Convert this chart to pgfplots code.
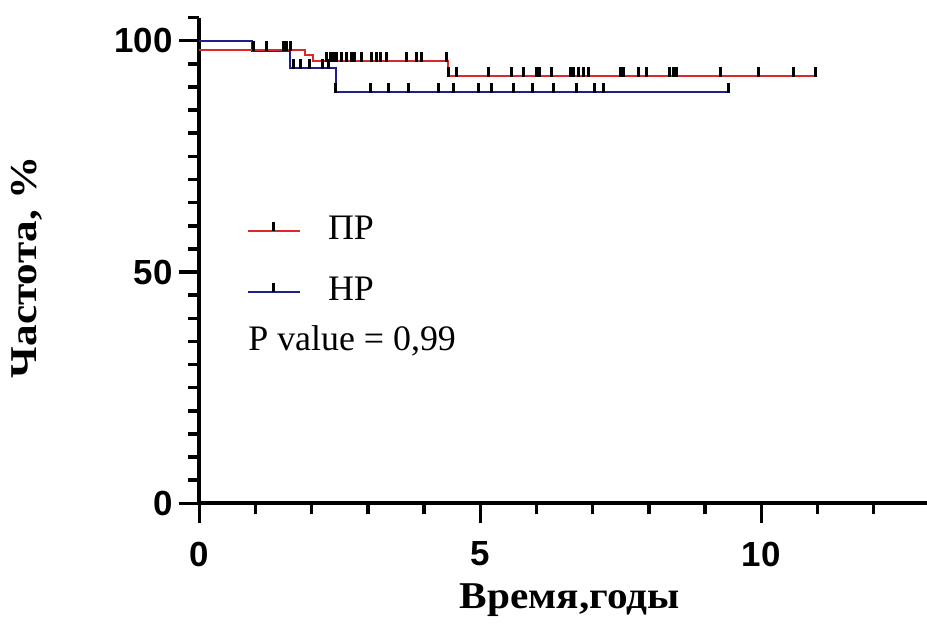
\documentclass[border=0pt]{standalone}
\usepackage{fontspec}
\setmainfont{Liberation Serif}
\setsansfont{Liberation Sans}
\newfontfamily\xlabfont[FakeStretch=1.09]{Liberation Serif}
\newfontfamily\ylabfont[FakeStretch=1.14]{Liberation Serif}
\usepackage{pgfplots}
\pgfplotsset{compat=1.18}
\definecolor{kmred}{RGB}{220,40,40}
\definecolor{kmblue}{RGB}{30,30,140}
\pgfdeclareplotmark{cens}{\pgfpathmoveto{\pgfqpoint{0pt}{-1bp}}\pgfpathlineto{\pgfqpoint{0pt}{9bp}}\pgfusepathqstroke}
\begin{document}
\begin{tikzpicture}
\useasboundingbox (-199.3bp,-127.7bp) rectangle (727.7bp,503.3bp);
\begin{axis}[
  scale only axis, width=730.6bp, height=485.7bp,
  xmin=0, xmax=13, ymin=0, ymax=105,
  axis x line*=bottom, axis y line*=left,
  axis line style={line width=4bp, black},
  xtick={0,5,10}, minor xtick={1,2,3,4,6,7,8,9,11,12,13},
  ytick={0,50,100}, minor ytick={5,10,...,105},
  tick align=outside,
  major tick length=20bp, minor tick length=11bp,
  every tick/.style={black, line width=3.5bp},
  tick label style={font=\fontsize{35}{35}\selectfont\sffamily\bfseries},
  xticklabel style={yshift=-15bp},
  yticklabel style={xshift=-3bp},
  /pgf/number format/assume math mode=true,
  xlabel={Время,годы}, ylabel={Частота, \%},
  xlabel style={font=\fontsize{38}{38}\selectfont\xlabfont\bfseries, at={(axis description cs:0.507,-0.20)}, anchor=center},
  ylabel style={font=\fontsize{38}{38}\selectfont\ylabfont\bfseries, at={(axis description cs:-0.2358,0.4865)}, anchor=center},
  legend style={draw=none, fill=none, at={(axis cs:0.84,62.5)}, anchor=north west,
    font=\fontsize{36}{36}\selectfont, row sep=27.7bp, inner sep=0pt,
    nodes={inner sep=0pt, text height=25bp, text depth=8bp}},
  legend cell align=left,
  clip=false,
]
\addlegendimage{legend image code/.code={\path[draw=none,fill=none] (0bp,0bp) rectangle (80.3bp,0.1bp); \draw[kmred,line width=2bp] (0bp,0bp) -- (52.6bp,0bp); \draw[black,line width=3bp] (25.6bp,0bp) -- (25.6bp,9bp);}}
\addlegendentry{ПР}
\addlegendimage{legend image code/.code={\path[draw=none,fill=none] (0bp,0bp) rectangle (80.3bp,0.1bp); \draw[kmblue,line width=2bp] (0bp,0bp) -- (52.6bp,0bp); \draw[black,line width=3bp] (25.6bp,0bp) -- (25.6bp,9bp);}}
\addlegendentry{НР}

\addplot[kmblue, line width=2bp, const plot, forget plot] coordinates {(0,100)(0.93,97.7)(1.61,94.2)(2.43,89.0)(9.41,89.0)};
\addplot[kmred, line width=2bp, const plot, forget plot] coordinates {(0,98)(1.88,96.9)(2.02,95.7)(4.42,92.3)(10.97,92.3)};

\addplot[only marks, mark=cens, mark options={black, line width=3bp}, forget plot] coordinates {
(0.97,98)(1.2,98)(1.49,98)(1.56,98)(1.62,98)
(2.27,95.7)(2.33,95.7)(2.38,95.7)(2.44,95.7)(2.53,95.7)(2.62,95.7)(2.71,95.7)(2.77,95.7)(2.89,95.7)
(3.07,95.7)(3.16,95.7)(3.22,95.7)(3.33,95.7)(3.69,95.7)(3.87,95.7)(3.96,95.7)(4.40,95.7)
(4.43,92.3)(4.58,92.3)(5.14,92.3)(5.56,92.3)(5.77,92.3)(6.00,92.3)(6.06,92.3)(6.27,92.3)
(6.60,92.3)(6.65,92.3)(6.74,92.3)(6.83,92.3)(6.92,92.3)(7.49,92.3)(7.54,92.3)(7.81,92.3)
(7.96,92.3)(8.37,92.3)(8.43,92.3)(8.49,92.3)(9.27,92.3)(9.95,92.3)(10.57,92.3)(10.96,92.3)
};
\addplot[only marks, mark=cens, mark options={black, line width=3bp}, forget plot] coordinates {
(1.68,94.2)(1.80,94.2)(1.96,94.2)(2.20,94.2)(2.30,94.2)
(2.43,89)(3.04,89)(3.36,89)(3.72,89)(4.25,89)(4.52,89)(4.96,89)(5.20,89)(5.59,89)
(5.92,89)(6.30,89)(6.72,89)(7.04,89)(7.19,89)(9.41,89)
};

\node[anchor=base west, font=\fontsize{36}{36}\selectfont, inner sep=0pt] at (axis cs:0.87,33.1) {P value = 0,99};
\end{axis}
\end{tikzpicture}
\end{document}
